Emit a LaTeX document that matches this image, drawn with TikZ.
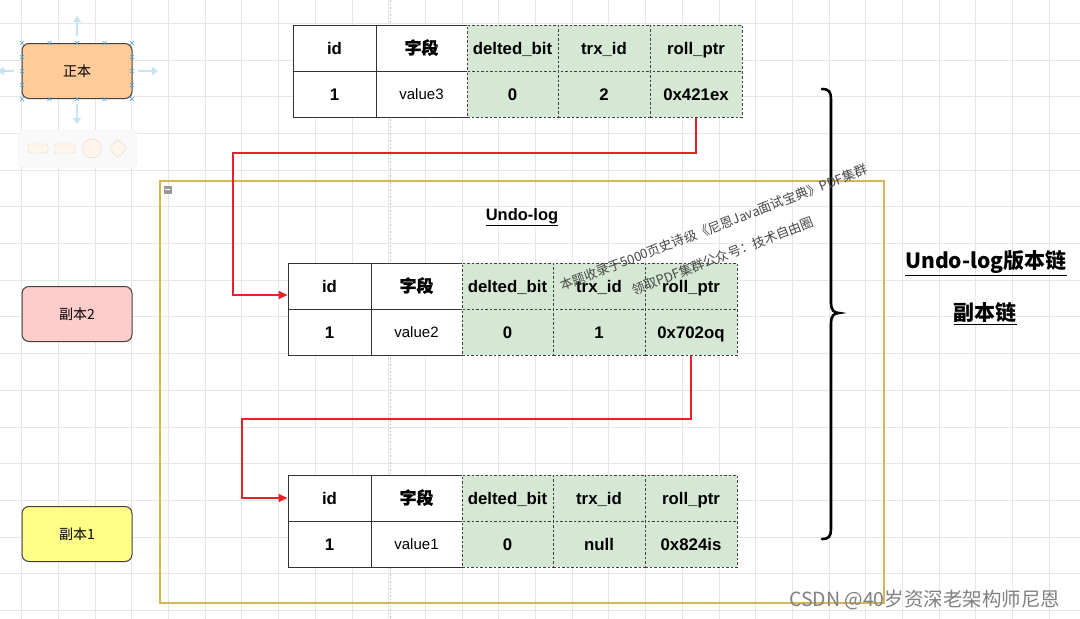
\documentclass[tikz,border=0pt]{standalone}
\usepackage{fontspec}
\setmainfont{Liberation Sans}
\newfontfamily\cjk{Noto Sans CJK SC}
\newfontfamily\cjkfb{Noto Sans CJK SC}[FakeBold=1.2]
\usetikzlibrary{arrows.meta}
\definecolor{cgreen}{HTML}{D5E8D4}
\definecolor{corange}{HTML}{FFCC99}
\definecolor{cpink}{HTML}{FFCCCC}
\definecolor{cyellow}{HTML}{FFFF88}
\definecolor{cgold}{HTML}{D6B656}
\definecolor{cred}{HTML}{E8202A}
\definecolor{cgrid}{HTML}{E6E6E6}
\definecolor{cui}{HTML}{C4E3F3}
\definecolor{csel}{HTML}{4FA3D8}
\tikzset{
  hd/.style={font=\fontsize{16.8}{19}\selectfont\bfseries, text height=13pt, text depth=1pt},
  vl/.style={font=\fontsize{15}{17}\selectfont, text height=11.8pt, text depth=1pt},
  cellw/.style={draw=black!80, line width=1pt, fill=white, minimum height=46pt, inner sep=0pt},
  cellg/.style={draw=black!75, line width=1pt, dash pattern=on 2.5pt off 2pt, fill=cgreen, minimum height=46pt, inner sep=0pt},
  side/.style={rounded corners=7pt, draw=black!75, line width=1pt, minimum width=110pt, minimum height=55pt, inner sep=0pt, font=\cjk\fontsize{14}{16}\selectfont},
  redarrow/.style={draw=cred, line width=1.6pt, -{Triangle[length=9pt,width=8pt]}},
  uiarrow/.style={draw=cui, line width=2.5pt, -{Triangle[length=6pt,width=8pt]}},
  wm/.style={font=\cjk\fontsize{13}{15}\selectfont, text=black!72, rotate=21, inner sep=0pt},
}
\newcommand\undotab[6]{%
  \node[cellw,hd,minimum width=83pt] (#1h1) at (#2+41.5,#3+23) {id};
  \node[cellw,hd,minimum width=91pt] (#1h2) at (#2+128.5,#3+23) {\cjkfb\bfseries 字段};
  \node[cellg,hd,minimum width=91pt] (#1h3) at (#2+219.5,#3+23) {delted\_bit};
  \node[cellg,hd,minimum width=92pt] (#1h4) at (#2+311,#3+23) {trx\_id};
  \node[cellg,hd,minimum width=92pt] (#1h5) at (#2+403,#3+23) {roll\_ptr};
  \node[cellw,hd,minimum width=83pt] (#1v1) at (#2+41.5,#3+69) {1};
  \node[cellw,vl,minimum width=91pt] (#1v2) at (#2+128.5,#3+69) {#4};
  \node[cellg,hd,minimum width=91pt] (#1v3) at (#2+219.5,#3+69) {0};
  \node[cellg,hd,minimum width=92pt] (#1v4) at (#2+311,#3+69) {#5};
  \node[cellg,hd,minimum width=92pt] (#1v5) at (#2+403,#3+69) {#6};
}
\begin{document}
\begin{tikzpicture}[x=1pt,y=-1pt]
\fill[white] (0,0) rectangle (1080,619);
\useasboundingbox (0,0) rectangle (1080,619);
% grid
\foreach \k in {0,...,29} {
  \draw[cgrid, line width=0.9pt] (21.7+\k*36.7,0) -- (21.7+\k*36.7,619);
}
\foreach \k in {0,...,16} {
  \draw[cgrid, line width=0.9pt] (0,23.3+\k*36.7) -- (1080,23.3+\k*36.7);
}
% guide line
\draw[black!25, line width=1pt, dash pattern=on 1.5pt off 2pt] (390,0) -- (390,619);

% faint UI (hover arrows + palette)
\draw[uiarrow] (77,36) -- (77,16);
\draw[uiarrow] (77,104) -- (77,124);
\draw[uiarrow] (14,71) -- (-2,71);
\draw[uiarrow] (138,71) -- (158,71);
\fill[black!2.5, rounded corners=6pt] (18,130) rectangle (137,168);
\draw[black!6, rounded corners=6pt] (18,130) rectangle (137,168);
\draw[fill=orange!8, draw=orange!25!black!18, rounded corners=1.5pt] (28,144) rectangle (48,153);
\draw[fill=orange!8, draw=orange!25!black!18, rounded corners=1pt] (55,144) rectangle (75,153);
\draw[fill=orange!8, draw=orange!25!black!18] (92,148.5) circle (9.5);
\draw[fill=orange!8, draw=orange!25!black!18, rounded corners=1.5pt] (118,139) -- (127,148.5) -- (118,158) -- (109,148.5) -- cycle;

% container
\node[draw=cgold, line width=1.2pt, minimum width=724pt, minimum height=422pt, inner sep=0pt] (undo) at (522,392) {};
\node[fill=black!40, minimum size=8pt, inner sep=0pt] (fold) at (167.5,189.5) {};
\draw[white, line width=1pt] ([xshift=-2.5pt]fold.center) -- ([xshift=2.5pt]fold.center);
\node[font=\fontsize{16.5}{18}\selectfont\bfseries] (undolbl) at (522,217) {\underline{Undo-log}};

% side boxes
\node[side, fill=corange] (zb) at (77,71) {正本};
\foreach \xx in {22,49.5,77,104.5,132} {
  \foreach \yy in {43,99} {
    \draw[csel, line width=0.6pt] (\xx-2,\yy-2) -- (\xx+2,\yy+2) (\xx-2,\yy+2) -- (\xx+2,\yy-2);
  }
}
\foreach \yy in {57,71,85} {
  \foreach \xx in {22,132} {
    \draw[csel, line width=0.6pt] (\xx-2,\yy-2) -- (\xx+2,\yy+2) (\xx-2,\yy+2) -- (\xx+2,\yy-2);
  }
}
\node[side, fill=cpink] (fb2) at (77,314) {副本2};
\node[side, fill=cyellow] (fb1) at (77,534) {副本1};

% tables
\undotab{t}{293}{25}{value3}{2}{0x421ex}
\undotab{m}{288}{263}{value2}{1}{0x702oq}
\undotab{b}{288}{475}{value1}{null}{0x824is}

% connectors
\coordinate (c1) at (233,153);
\coordinate (c2) at (242,419);
\draw[redarrow] (tv5.south) |- (c1) |- ([yshift=-9pt]mh1.west);
\draw[redarrow] (mv5.south) |- (c2) |- (bh1.west);

% brace
\draw[black, line width=2.6pt, line cap=round]
  (822,89) .. controls (829,89) and (831,92) .. (831,99) -- (831,303)
  .. controls (831,310) and (834,313) .. (839,313)
  .. controls (834,313) and (831,316) .. (831,323) -- (831,529)
  .. controls (831,536) and (829,539) .. (822,539);

% right labels
\node[font=\cjk\fontsize{21}{24}\selectfont\bfseries] (chain) at (986,263) {\underline{Undo-log版本链}};
\node[font=\cjk\fontsize{21}{24}\selectfont\bfseries] (chain2) at (985,314) {\underline{副本链}};

% watermarks
\node[wm] (wm1) at (713.5,227.5) {本题收录于5000页史诗级《尼恩Java面试宝典》PDF集群};
\node[wm] (wm2) at (723,256) {领取PDF集群公众号：技术自由圈};
\node[font=\cjk\fontsize{19.5}{22}\selectfont, text=black!50, anchor=west, inner sep=0pt] (csdn) at (789,600) {CSDN @40岁资深老架构师尼恩};
\end{tikzpicture}
\end{document}
